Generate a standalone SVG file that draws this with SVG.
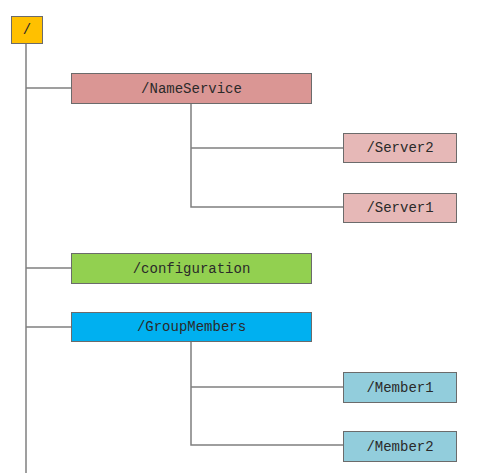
<svg xmlns="http://www.w3.org/2000/svg" width="492" height="473" viewBox="0 0 492 473">
  <style>
    .box { stroke: #6b6b6b; stroke-width: 1; }
    .lbl { font-family: "Liberation Mono", "DejaVu Sans Mono", monospace; font-size: 14px; fill: #2a2a2a; text-anchor: middle; dominant-baseline: central; }
    .conn { fill: none; stroke: #7f7f7f; stroke-width: 1.5; }
  </style>
  <rect width="492" height="473" fill="#ffffff"/>

  <!-- tree connectors -->
  <g id="connectors">
    <path class="conn" d="M26 43 V473"/>
    <path class="conn" d="M26 88 H71"/>
    <path class="conn" d="M26 268 H71"/>
    <path class="conn" d="M26 327 H71"/>
    <path class="conn" d="M191 103 V207 H343"/>
    <path class="conn" d="M191 148 H343"/>
    <path class="conn" d="M191 341 V445 H343"/>
    <path class="conn" d="M191 387 H343"/>
  </g>

  <g id="root">
    <rect class="box" x="11.5" y="16.5" width="31" height="27" fill="#ffc000"/>
    <text class="lbl" x="27" y="30">/</text>
  </g>

  <g id="nameservice">
    <rect class="box" x="71.5" y="73.5" width="240" height="30" fill="#da9694"/>
    <text class="lbl" x="191.5" y="88.5">/NameService</text>
  </g>

  <g id="server2">
    <rect class="box" x="343.5" y="133.5" width="113" height="29" fill="#e6b8b7"/>
    <text class="lbl" x="400" y="148">/Server2</text>
  </g>

  <g id="server1">
    <rect class="box" x="343.5" y="193.5" width="113" height="29" fill="#e6b8b7"/>
    <text class="lbl" x="400" y="208">/Server1</text>
  </g>

  <g id="configuration">
    <rect class="box" x="71.5" y="253.5" width="240" height="30" fill="#92d050"/>
    <text class="lbl" x="191.5" y="268.5">/configuration</text>
  </g>

  <g id="groupmembers">
    <rect class="box" x="71.5" y="312.5" width="240" height="29" fill="#00b0f0"/>
    <text class="lbl" x="191.5" y="327">/GroupMembers</text>
  </g>

  <g id="member1">
    <rect class="box" x="343.5" y="372.5" width="113" height="30" fill="#92cddc"/>
    <text class="lbl" x="400" y="387.5">/Member1</text>
  </g>

  <g id="member2">
    <rect class="box" x="343.5" y="431.5" width="113" height="30" fill="#92cddc"/>
    <text class="lbl" x="400" y="446.5">/Member2</text>
  </g>
</svg>
